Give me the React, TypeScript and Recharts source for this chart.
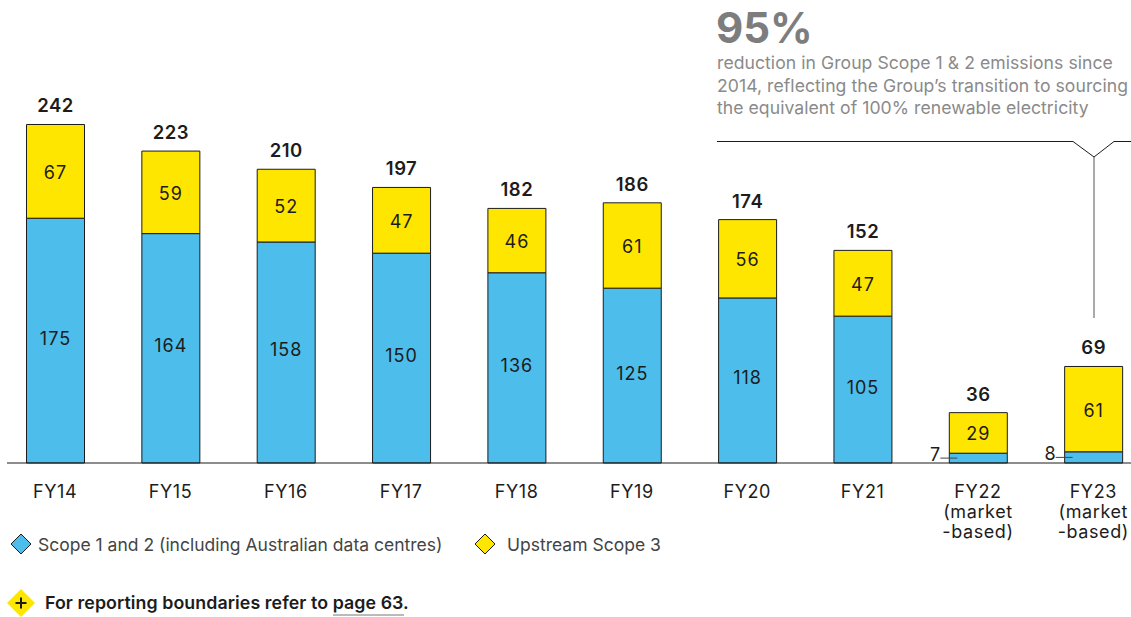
import React from 'react';
import { BarChart, Bar, XAxis, YAxis, LabelList, Legend } from 'recharts';

const categories = ['FY14', 'FY15', 'FY16', 'FY17', 'FY18', 'FY19', 'FY20', 'FY21', 'FY22', 'FY23'];
const scope12 = [175, 164, 158, 150, 136, 125, 118, 105, 7, 8];
const scope3 = [67, 59, 52, 47, 46, 61, 56, 47, 29, 61];
const totals = [242, 223, 210, 197, 182, 186, 174, 152, 36, 69];
const calloutLines = [
  'reduction in Group Scope 1 & 2 emissions since',
  '2014, reflecting the Group’s transition to sourcing',
  'the equivalent of 100% renewable electricity',
];

const BLUE = '#4dbdeb';
const YELLOW = '#ffe600';
const INK = '#1c1c1c';
const FONT = 'Inter, sans-serif';

const data = categories.map((name, i) => ({
  name,
  scope12: scope12[i],
  scope3: scope3[i],
  total: totals[i],
}));

const AxisTick = ({ x, payload }: any) => {
  const market = payload.value === 'FY22' || payload.value === 'FY23';
  return (
    <text x={x} y={463} textAnchor="middle" fontSize={18} letterSpacing={0.6} fontFamily={FONT} fill={INK}>
      <tspan x={x} dy={35}>{payload.value}</tspan>
      {market && <tspan x={x} dy={20}>(market</tspan>}
      {market && <tspan x={x} dy={20}>-based)</tspan>}
    </text>
  );
};

// small bars can't hold their value, so it goes to the left with a leader line
const BlueLabel = ({ x, y, width, height, value }: any) => {
  const cx = x + width / 2;
  const cy = y + height / 2;
  if (height < 20) {
    return (
      <g>
        <line x1={x - 9} x2={x + 8} y1={cy} y2={cy} stroke="#444" strokeWidth={1} />
        <text x={x - 9} y={cy + 3} textAnchor="end" fontSize={18} fontFamily={FONT} fill={INK}>{value}</text>
      </g>
    );
  }
  return <text x={cx} y={cy + 4} textAnchor="middle" fontSize={18} letterSpacing={1} fontFamily={FONT} fill={INK}>{value}</text>;
};

const LegendContent = ({ payload }: any) => (
  <svg width={700} height={30} style={{ display: 'block' }}>
    {(payload || []).map((item: any, i: number) => {
      const cx = i === 0 ? 21 : 485;
      return (
        <g key={item.value}>
          <polygon
            points={`${cx - 10},15 ${cx},5 ${cx + 10},15 ${cx},25`}
            fill={item.color}
            stroke={INK}
            strokeWidth={1}
          />
          <text x={cx + (i === 0 ? 17 : 22)} y={22} fontSize={17.5} fontFamily={FONT} fill="#444">{item.value}</text>
        </g>
      );
    })}
  </svg>
);

export default function App() {
  return (
    <div style={{ position: 'absolute', left: 0, top: 0, width: 1131, height: 617, overflow: 'hidden', background: '#fff' }}>
      <BarChart
        width={1131}
        height={617}
        data={data}
        margin={{ top: 0, right: 0, bottom: 124, left: 7 }}
        barSize={58}
      >
        <YAxis hide domain={[0, 331]} />
        <XAxis
          dataKey="name"
          interval={0}
          padding={{ left: -9.5, right: -20 }}
          tickLine={false}
          axisLine={{ stroke: INK, strokeWidth: 1 }}
          tick={<AxisTick />}
        />
        <Legend
          verticalAlign="middle"
          content={<LegendContent />}
          wrapperStyle={{ left: 0, top: 529, width: 700 }}
        />
        <Bar
          dataKey="scope12"
          name="Scope 1 and 2 (including Australian data centres)"
          stackId="a"
          fill={BLUE}
          stroke={INK}
          isAnimationActive={false}
        >
          <LabelList dataKey="scope12" content={<BlueLabel />} />
        </Bar>
        <Bar
          dataKey="scope3"
          name="Upstream Scope 3"
          stackId="a"
          fill={YELLOW}
          stroke={INK}
          isAnimationActive={false}
        >
          <LabelList dataKey="scope3" position="center" dy={1} fontSize={18} letterSpacing={1} fontFamily={FONT} fill={INK} />
          <LabelList dataKey="total" position="top" offset={12} fontSize={18.5} fontWeight={600} letterSpacing={0.5} fontFamily={FONT} fill={INK} />
        </Bar>
      </BarChart>

      <svg width={1131} height={617} style={{ position: 'absolute', left: 0, top: 0, pointerEvents: 'none' }}>
        <text x={716} y={43} fontSize={42} fontWeight={700} fontFamily={FONT} fill="#7d7d7d">95%</text>
        {calloutLines.map((line, i) => (
          <text key={line} x={717} y={69 + i * 22.7} fontSize={17.6} letterSpacing={0.05} fontFamily={FONT} fill="#8a8a8a">{line}</text>
        ))}
        <polyline points="717,141.5 1073,141.5 1094,157 1114,141.5 1131,141.5" fill="none" stroke={INK} strokeWidth={1} />
        <line x1={1094} x2={1094} y1={157} y2={318} stroke="#555" strokeWidth={1} />

        <polygon points="7,603 21,589 35,603 21,617" fill={YELLOW} />
        <path d="M15.5 603 H26.5 M21 597.5 V608.5" stroke={INK} strokeWidth={2} />
        <text x={45} y={609} fontSize={17.8} fontWeight={600} letterSpacing={0.08} fontFamily={FONT} fill={INK}>
          For reporting boundaries refer to page 63.
        </text>
        <line x1={333} x2={404} y1={615} y2={615} stroke="#777" strokeWidth={1} />
      </svg>
    </div>
  );
}
